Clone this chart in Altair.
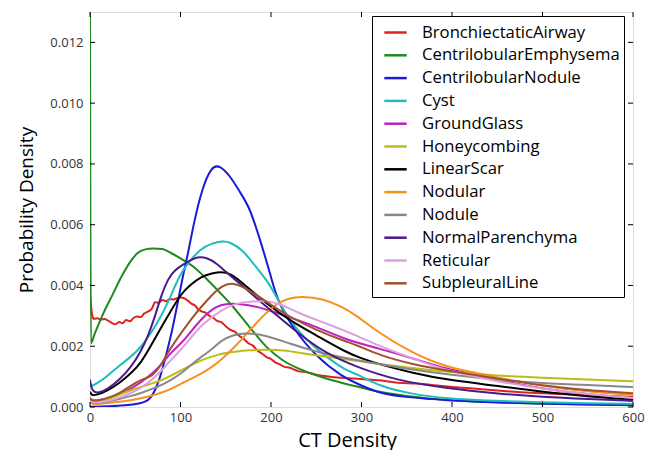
import altair as alt
import pandas as pd

series_names = ["BronchiectaticAirway", "CentrilobularEmphysema", "CentrilobularNodule", "Cyst",
                "GroundGlass", "Honeycombing", "LinearScar", "Nodular", "Nodule",
                "NormalParenchyma", "Reticular", "SubpleuralLine"]
series_colors = ["#dd2222", "#1f8a1f", "#1a1ad8", "#1fbcbc", "#c020c0", "#bcbc14",
                 "#000000", "#f7901e", "#888888", "#4b1a8a", "#dda0dd", "#a0522d"]

x_ticks = [0, 100, 200, 300, 400, 500, 600]
y_ticks = [0.0, 0.002, 0.004, 0.006, 0.008, 0.010, 0.012]

bronch_x = [0, 2, 4, 8, 12, 16, 20, 24, 28, 32, 36, 40, 44, 48, 52, 56, 60, 64, 68, 72, 76, 80, 84, 88, 92, 96,
            100, 104, 108, 112, 116, 120, 124, 128, 132, 136, 140, 145, 150, 155, 160, 165, 170, 175, 180, 185,
            190, 195, 200, 205, 210, 215, 220, 225, 230, 240, 250, 260, 270, 280, 290, 300, 320, 340, 360, 380,
            400, 420, 440, 460, 480, 500, 540, 580, 600]
bronch_y = [0.0037, 0.0031, 0.0029, 0.00292, 0.00288, 0.0029, 0.00284, 0.00277, 0.00272, 0.0028, 0.00276,
            0.00286, 0.00282, 0.00293, 0.00298, 0.00296, 0.00308, 0.00314, 0.00322, 0.00345, 0.00343, 0.00352,
            0.00348, 0.00355, 0.00354, 0.00358, 0.0036, 0.00358, 0.0035, 0.0034, 0.00334, 0.0032, 0.00314,
            0.0031, 0.003, 0.00294, 0.00284, 0.00279, 0.00266, 0.00254, 0.00248, 0.00234, 0.00224, 0.0021,
            0.00202, 0.00186, 0.00176, 0.00164, 0.00158, 0.00146, 0.0014, 0.00132, 0.0013, 0.00124, 0.00118,
            0.00114, 0.00106, 0.00102, 0.00098, 0.00096, 0.00094, 0.00092, 0.00088, 0.0008, 0.00077, 0.00072,
            0.00066, 0.00062, 0.00057, 0.00052, 0.00048, 0.00045, 0.0004, 0.00035, 0.00034]

emph_x = [0, 1, 5, 15, 25, 35, 45, 52, 60, 70, 80, 90, 104, 115, 130, 145, 158, 176, 195, 213, 235, 261, 294,
          320, 350, 400, 450, 500, 550, 600]
emph_y = [0.013, 0.0021, 0.0024, 0.0031, 0.0037, 0.0043, 0.0048, 0.00505, 0.00518, 0.00522, 0.0052, 0.00506,
          0.00482, 0.0046, 0.00418, 0.00372, 0.0033, 0.00264, 0.00198, 0.00154, 0.00121, 0.00094, 0.00068,
          0.0005, 0.00036, 0.00022, 0.00015, 0.00011, 0.00008, 0.00006]

cnod_x = [0, 20, 40, 55, 64, 70, 78, 84, 90, 96, 100, 104, 108, 115, 124, 134, 143, 155, 165, 176, 187, 200,
          207, 224, 250, 279, 300, 320, 350, 393, 450, 500, 550, 600]
cnod_y = [0.00001, 0.00002, 0.00005, 0.00011, 0.0002, 0.0004, 0.001, 0.0017, 0.0024, 0.0033, 0.0039, 0.0045,
          0.005, 0.0061, 0.0072, 0.0079, 0.00797, 0.0076, 0.0071, 0.0066, 0.0056, 0.0043, 0.0035, 0.0026,
          0.00165, 0.00099, 0.0007, 0.00045, 0.00032, 0.00022, 0.00015, 0.00011, 0.00008, 0.00006]

cyst_x = [0, 2, 10, 18, 32, 45, 56, 69, 79, 90, 100, 110, 122, 135, 147, 154, 169, 183, 195, 206, 220, 239,
          261, 283, 294, 320, 356, 393, 448, 500, 550, 600]
cyst_y = [0.0007, 0.00068, 0.00082, 0.00099, 0.00135, 0.00165, 0.00195, 0.0025, 0.003, 0.0037, 0.0044, 0.0048,
          0.0052, 0.0054, 0.00546, 0.00544, 0.00517, 0.00462, 0.0042, 0.00363, 0.00286, 0.0022, 0.00165,
          0.0012, 0.0011, 0.00068, 0.00042, 0.00028, 0.0002, 0.00015, 0.00012, 0.0001]

gg_x = [0, 2, 10, 20, 32, 45, 56, 69, 79, 88, 101, 112, 123, 139, 152, 165, 187, 213, 242, 283, 320, 357,
        393, 430, 443, 498, 550, 600]
gg_y = [0.0003, 0.0002, 0.00022, 0.0003, 0.00039, 0.0006, 0.0008, 0.0011, 0.0014, 0.00175, 0.0021, 0.0025,
        0.0029, 0.00333, 0.0034, 0.0034, 0.0033, 0.00302, 0.00275, 0.0022, 0.00192, 0.0016, 0.00126, 0.00104,
        0.00094, 0.0006, 0.00042, 0.0003]

honey_x = [0, 2, 10, 20, 32, 45, 56, 69, 79, 90, 101, 112, 123, 135, 145, 160, 176, 195, 213, 233, 250, 294,
           350, 400, 450, 500, 550, 600]
honey_y = [0.0002, 0.0001, 0.00015, 0.00025, 0.0004, 0.00055, 0.00066, 0.00078, 0.00088, 0.00104, 0.00121,
           0.00138, 0.00154, 0.00166, 0.00176, 0.00182, 0.00187, 0.00189, 0.00187, 0.00178, 0.0017, 0.00152,
           0.0013, 0.00114, 0.00103, 0.00096, 0.0009, 0.00085]

scar_x = [0, 2, 7, 20, 32, 45, 56, 69, 79, 88, 101, 110, 123, 135, 145, 155, 169, 195, 220, 250, 283, 300,
          320, 357, 393, 449, 498, 550, 600]
scar_y = [0.0005, 0.00038, 0.00039, 0.00055, 0.00077, 0.0011, 0.00143, 0.0021, 0.00264, 0.0031, 0.00374,
          0.004, 0.0043, 0.0044, 0.00445, 0.0044, 0.00407, 0.0034, 0.00286, 0.00236, 0.0018, 0.0016, 0.0014,
          0.00112, 0.0009, 0.0007, 0.0005, 0.00035, 0.00024]

nodular_x = [0, 2, 10, 20, 32, 45, 56, 69, 79, 90, 101, 112, 123, 135, 145, 161, 183, 205, 220, 233, 257, 279,
             294, 320, 357, 393, 430, 454, 498, 550, 600]
nodular_y = [0.00015, 0.0001, 0.0001, 0.00013, 0.00017, 0.00022, 0.00028, 0.00038, 0.00047, 0.0006, 0.00077,
             0.00093, 0.0011, 0.00132, 0.00155, 0.002, 0.00275, 0.0034, 0.00358, 0.00364, 0.00357, 0.0033,
             0.00302, 0.00242, 0.00176, 0.00132, 0.0011, 0.00095, 0.0007, 0.0005, 0.0004]

nodule_x = [0, 2, 10, 20, 32, 45, 56, 69, 79, 90, 101, 112, 123, 135, 145, 158, 172, 195, 220, 250, 294, 350,
            400, 450, 500, 550, 600]
nodule_y = [0.0002, 0.00012, 0.00013, 0.00018, 0.00026, 0.00036, 0.00045, 0.0006, 0.00072, 0.0009, 0.0011,
            0.0014, 0.00165, 0.0019, 0.0022, 0.00237, 0.00245, 0.00236, 0.00209, 0.00181, 0.00154, 0.00125,
            0.00105, 0.0009, 0.00078, 0.00072, 0.00066]

normal_x = [0, 2, 10, 20, 32, 45, 56, 65, 72, 79, 86, 93, 106, 119, 130, 139, 150, 160, 172, 191, 213, 235,
            261, 294, 338, 393, 449, 500, 550, 600]
normal_y = [0.0009, 0.0005, 0.00045, 0.0006, 0.00088, 0.0013, 0.0018, 0.0024, 0.003, 0.0037, 0.0042, 0.0045,
            0.00475, 0.00497, 0.0049, 0.00475, 0.00445, 0.0042, 0.0039, 0.0034, 0.00286, 0.00231, 0.00176,
            0.00132, 0.00088, 0.00062, 0.00044, 0.00033, 0.00026, 0.0002]

retic_x = [0, 2, 10, 20, 32, 45, 56, 69, 79, 88, 101, 112, 123, 145, 160, 176, 194, 210, 231, 261, 294, 320,
           356, 393, 448, 500, 550, 600]
retic_y = [0.0002, 0.00015, 0.00015, 0.0002, 0.0003, 0.00045, 0.00062, 0.0009, 0.0012, 0.0015, 0.0019, 0.0023,
           0.0027, 0.0032, 0.0034, 0.00347, 0.0035, 0.0034, 0.00308, 0.00275, 0.00236, 0.002, 0.0016, 0.0012,
           0.00085, 0.0006, 0.00042, 0.0003]

subp_x = [0, 2, 10, 20, 32, 45, 56, 69, 79, 88, 101, 112, 123, 135, 145, 158, 176, 195, 220, 250, 283, 294,
          320, 357, 393, 449, 500, 550, 600]
subp_y = [0.0003, 0.0002, 0.00022, 0.0003, 0.00044, 0.0007, 0.0009, 0.001, 0.0014, 0.0019, 0.00245, 0.0029,
          0.0033, 0.0037, 0.00398, 0.00412, 0.00385, 0.00346, 0.00297, 0.00253, 0.00215, 0.00205, 0.0017,
          0.0014, 0.0012, 0.00094, 0.0007, 0.00055, 0.00045]

all_x = [bronch_x, emph_x, cnod_x, cyst_x, gg_x, honey_x, scar_x, nodular_x, nodule_x, normal_x, retic_x, subp_x]
all_y = [bronch_y, emph_y, cnod_y, cyst_y, gg_y, honey_y, scar_y, nodular_y, nodule_y, normal_y, retic_y, subp_y]

rows = []
for i, (name, xs, ys) in enumerate(zip(series_names, all_x, all_y)):
    for j, (xv, yv) in enumerate(zip(xs, ys)):
        rows.append({"series": name, "order": i, "idx": j, "ct": xv, "density": yv})
df = pd.DataFrame(rows)

W, H = 543, 395
FONT = "Open Sans"

xscale = alt.Scale(domain=[0, 600], nice=False, zero=False)
yscale = alt.Scale(domain=[0, 0.013], nice=False)

x_axis = alt.Axis(values=x_ticks, format="d", domain=False, ticks=False, grid=False, labelFlush=False,
                  labelFont=FONT, labelFontSize=13, labelColor="#333333", labelPadding=4,
                  titleFont=FONT, titleFontSize=20, titleFontWeight="normal", titleColor="#000000",
                  titlePadding=6, titleX=257)
y_axis = alt.Axis(values=y_ticks, format=".3f", domain=False, ticks=False, grid=False, labelFlush=False,
                  labelFont=FONT, labelFontSize=13, labelColor="#333333", labelPadding=7,
                  titleFont=FONT, titleFontSize=19, titleFontWeight="normal", titleColor="#000000",
                  titlePadding=13)

color_enc = alt.Color("series:N", scale=alt.Scale(domain=series_names, range=series_colors),
                      legend=alt.Legend(title=None, orient="none", legendX=282, legendY=4,
                                        symbolType="stroke", symbolStrokeWidth=2.5, symbolSize=500,
                                        labelFont=FONT, labelFontSize=16.7, labelColor="#000000",
                                        labelOffset=14, rowPadding=0.8, padding=4, symbolOffset=7,
                                        strokeColor="#000000", fillColor="#ffffff", labelLimit=300))

jag = ["BronchiectaticAirway", "CentrilobularEmphysema"]
df_jag = df[df["series"].isin(jag)]
df_smooth = df[~df["series"].isin(jag)]

def line_layer(data, interp):
    return alt.Chart(data).mark_line(strokeWidth=2, interpolate=interp, clip=True).encode(
        x=alt.X("ct:Q", scale=xscale, title="CT Density", axis=x_axis),
        y=alt.Y("density:Q", scale=yscale, title="Probability Density", axis=y_axis),
        color=color_enc,
        detail="order:O",
        order="idx:Q",
    )

lines_a = line_layer(df_jag, "monotone")
lines_b = line_layer(df_smooth, "basis")

xt = pd.DataFrame({"ct": x_ticks})
yt = pd.DataFrame({"density": y_ticks})

tick_bottom = alt.Chart(xt).mark_rule(color="black", strokeWidth=1).encode(
    x=alt.X("ct:Q", scale=xscale, title="CT Density", axis=x_axis), y=alt.value(H), y2=alt.value(H - 5))
tick_top = alt.Chart(xt).mark_rule(color="black", strokeWidth=1).encode(
    x=alt.X("ct:Q", scale=xscale, title="CT Density", axis=x_axis), y=alt.value(0), y2=alt.value(5))
tick_left = alt.Chart(yt).mark_rule(color="black", strokeWidth=1).encode(
    y=alt.Y("density:Q", scale=yscale, title="Probability Density", axis=y_axis),
    x=alt.value(0), x2=alt.value(5))
tick_right = alt.Chart(yt).mark_rule(color="black", strokeWidth=1).encode(
    y=alt.Y("density:Q", scale=yscale, title="Probability Density", axis=y_axis),
    x=alt.value(W), x2=alt.value(W - 5))

chart = alt.layer(lines_a, lines_b, tick_bottom, tick_top, tick_left, tick_right).properties(
    width=W, height=H,
    autosize="none",
    padding={"left": 82, "top": 4, "right": 12, "bottom": 43},
).configure_view(stroke="#000000", strokeWidth=1.2).configure(background="#ffffff")

chart.save("out.html", embed_options={"renderer": "svg", "actions": False})
